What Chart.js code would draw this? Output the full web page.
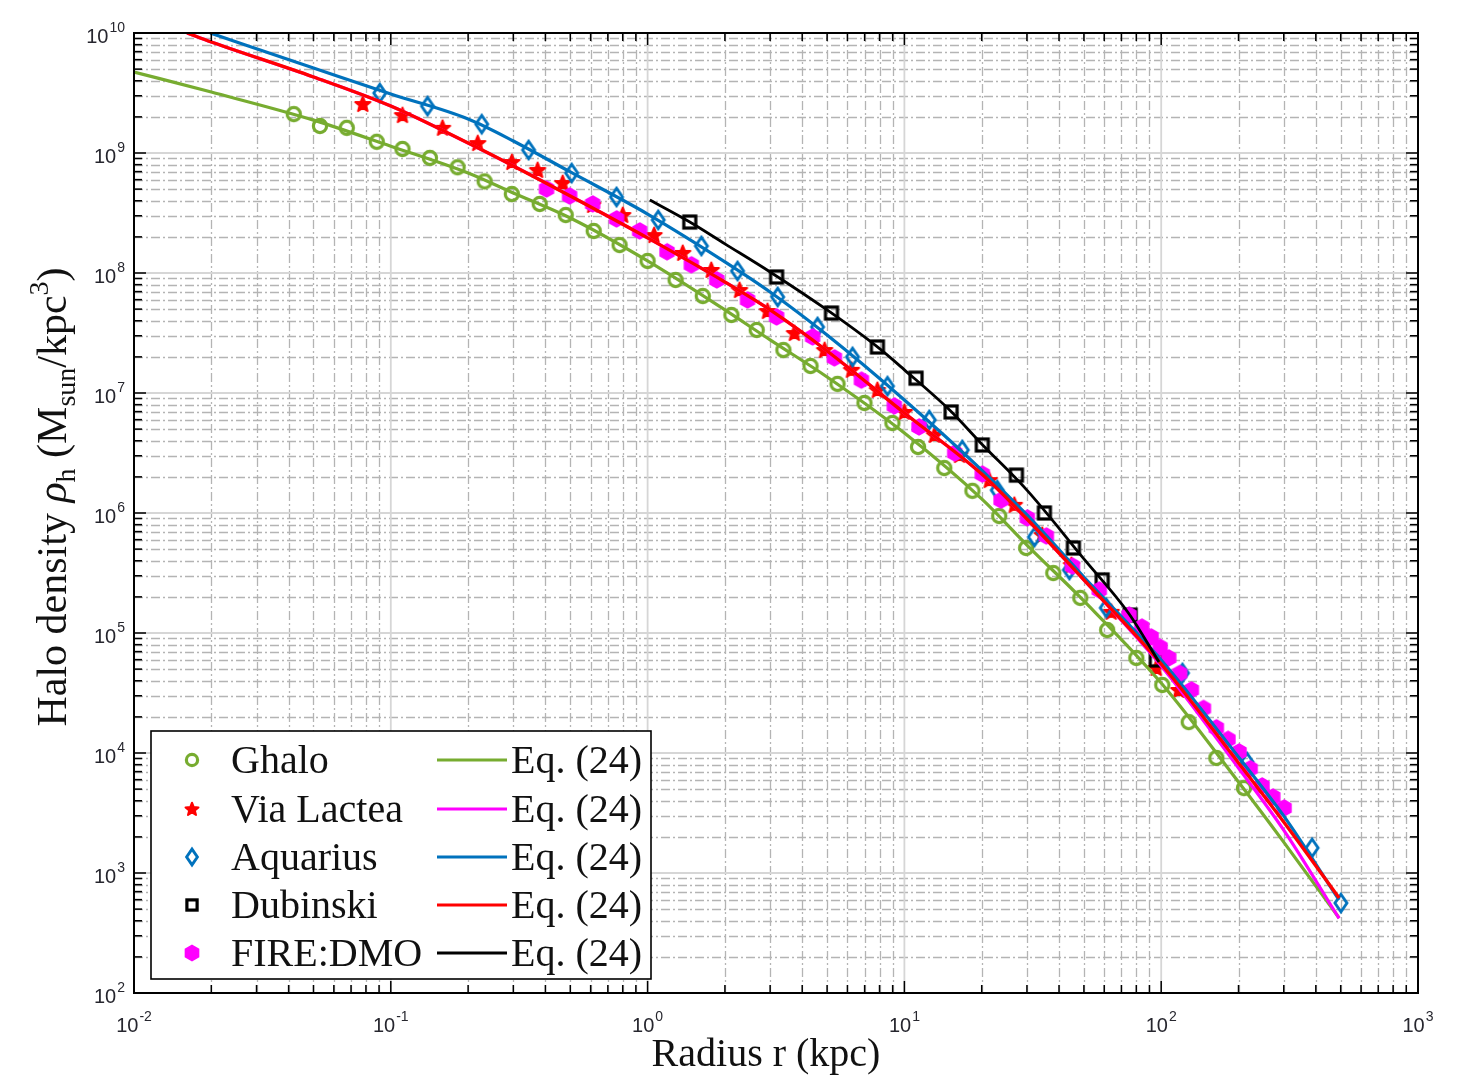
<!DOCTYPE html>
<html>
<head>
<meta charset="utf-8">
<script src="https://cdn.jsdelivr.net/npm/chart.js@4/dist/chart.umd.min.js"></script>
<style>
html,body{margin:0;padding:0;background:#ffffff;}
#wrap{width:1458px;height:1076px;position:relative;}
canvas{display:block;}
</style>
</head>
<body>
<div id="wrap"><canvas id="c" width="1458" height="1076"></canvas></div>
<script>
// ---------------- data ----------------
// Ghalo (green circles)
const ghaloR   = [0.0419,0.0530,0.0674,0.0882,0.111,0.142,0.182,0.232,0.296,0.380,0.480,0.617,0.778,1.00,1.285,1.64,2.12,2.66,3.38,4.31,5.49,6.99,8.98,11.3,14.3,18.4,23.4,29.8,38.0,48.4,61.6,80.0,101,128,164,210];
const ghaloRho = [2.11e9,1.68e9,1.62e9,1.24e9,1.08e9,9.1e8,7.6e8,5.8e8,4.55e8,3.76e8,3.04e8,2.24e8,1.71e8,1.26e8,8.75e7,6.43e7,4.47e7,3.35e7,2.28e7,1.68e7,1.19e7,8.26e6,5.62e6,3.55e6,2.37e6,1.53e6,9.44e5,5.11e5,3.16e5,1.96e5,1.06e5,6.19e4,3.69e4,1.81e4,9.09e3,5.1e3];
// Via Lactea (red stars)
const viaR   = [0.0778,0.111,0.159,0.218,0.296,0.373,0.467,0.611,0.80,1.06,1.37,1.77,2.28,2.93,3.73,4.89,6.22,7.85,10.0,13.1,16.4,21.4,26.8,34.4,44.7,63.9,95.7,117];
const viaRho = [2.56e9,2.07e9,1.62e9,1.21e9,8.41e8,7.21e8,5.62e8,3.69e8,3.04e8,2.07e8,1.47e8,1.06e8,7.21e7,4.82e7,3.16e7,2.28e7,1.56e7,1.06e7,6.95e6,4.47e6,3.04e6,1.88e6,1.17e6,6.56e5,3.69e5,1.5e5,5.11e4,3.35e4];
// Aquarius (blue diamonds)
const aqR   = [0.0906,0.139,0.226,0.344,0.506,0.757,1.10,1.62,2.24,3.21,4.59,6.28,8.59,12.5,16.8,23.0,32.1,43.9,61.1,84.3,121,216,387,501];
const aqRho = [3.16e9,2.46e9,1.74e9,1.06e9,6.81e8,4.3e8,2.77e8,1.68e8,1.04e8,6.31e7,3.55e7,2.0e7,1.14e7,5.96e6,3.35e6,1.55e6,6.31e5,3.35e5,1.62e5,9.8e4,4.64e4,8.41e3,1.62e3,562];
// Dubinski (black squares)
const dubR   = [1.46,3.18,5.20,7.85,11.1,15.2,20.1,27.3,35.1,45.5,58.9,75.7,95.7];
const dubRho = [2.66e8,9.27e7,4.64e7,2.42e7,1.33e7,6.95e6,3.69e6,2.07e6,1.0e6,5.11e5,2.77e5,1.41e5,5.96e4];
// FIRE:DMO (magenta hexagons)
const fireR   = [0.404,0.497,0.611,0.757,0.931,1.19,1.48,1.86,2.45,3.18,4.39,5.34,6.80,9.14,11.4,15.7,20.1,23.8,30.1,35.7,45.1,57.4,75.0,84.0,91.4,99.0,107,118,131,146,164,182,201,222,247,272,301];
const fireRho = [5.01e8,4.38e8,3.76e8,2.82e8,2.24e8,1.5e8,1.17e8,8.75e7,5.96e7,4.3e7,2.93e7,1.96e7,1.28e7,7.8e6,5.21e6,3.16e6,2.11e6,1.28e6,9.09e5,6.43e5,3.61e5,2.28e5,1.41e5,1.12e5,9.26e4,7.6e4,6.19e4,4.6e4,3.35e4,2.35e4,1.62e4,1.3e4,1.02e4,7.4e3,5.31e3,4.3e3,3.48e3];

// Eq. (24) fitted curves
const greenFitR   = [0.01,0.02,0.05,0.1,0.2,0.3,0.5,1,2,3,5,10,20,30,50,100,200,300,493];
const greenFitRho = [4.73e9,3.22e9,1.88e9,1.14e9,6.81e8,4.64e8,2.87e8,1.26e8,4.92e7,2.77e7,1.36e7,4.64e6,1.31e6,5.41e5,1.85e5,3.83e4,5.73e3,1.81e3,422];
const magentaFitR   = [0.0161,0.02,0.05,0.1,0.2,0.3,0.5,1,2,3,5,10,20,30,50,100,200,300,493];
const magentaFitRho = [1e10,8.41e9,4.3e9,2.46e9,1.21e9,7.8e8,4.38e8,1.96e8,8.41e7,4.92e7,2.24e7,6.81e6,2.11e6,8.91e5,2.77e5,5.31e4,7.5e3,2.28e3,418];
const blueFitR   = [0.0198,0.05,0.1,0.2,0.3,0.5,1,2,3,5,10,20,30,50,100,200,300,493];
const blueFitRho = [1e10,5.11e9,3.1e9,1.92e9,1.26e9,6.95e8,3.1e8,1.24e8,6.95e7,3.04e7,8.75e6,2.28e6,9.63e5,2.93e5,5.96e4,9.26e3,2.99e3,596];
const redFitR   = [0.0161,0.02,0.05,0.1,0.2,0.3,0.5,1,2,3,5,10,20,30,50,100,200,300,493];
const redFitRho = [1e10,8.41e9,4.3e9,2.46e9,1.21e9,7.8e8,4.38e8,1.96e8,8.41e7,4.92e7,2.24e7,6.81e6,2.11e6,8.91e5,2.77e5,5.52e4,8.26e3,2.66e3,619];
const blackFitR   = [1.02,1.46,2,3,5,7.85,10,15,20,30,50,75,98];
const blackFitRho = [4.06e8,2.66e8,1.75e8,1.02e8,4.92e7,2.42e7,1.56e7,7.21e6,3.76e6,1.55e6,4.14e5,1.44e5,5.73e4];

// tick labels (powers of ten)
const xTickExponents = [-2,-1,0,1,2,3];
const yTickExponents = [2,3,4,5,6,7,8,9,10];

// legend text
const legendMarkerLabels = ['Ghalo','Via Lactea','Aquarius','Dubinski','FIRE:DMO'];
const legendLineLabels   = ['Eq. (24)','Eq. (24)','Eq. (24)','Eq. (24)','Eq. (24)'];
const xTitle = 'Radius r (kpc)';

// ---------------- styles ----------------
const GREEN = 'rgb(119,172,48)';
const BLUE = 'rgb(0,114,189)';
const RED = 'rgb(255,0,0)';
const MAGENTA = 'rgb(255,0,255)';
const BLACK = 'rgb(0,0,0)';
const SERIF = '"Liberation Serif","Times New Roman",serif';
const SANS = '"Liberation Sans",Arial,sans-serif';

function makeMarker(kind, color, s){
  const c = document.createElement('canvas');
  c.width = 26; c.height = 26;
  const g = c.getContext('2d');
  const cx = 13, cy = 13;
  g.strokeStyle = color; g.fillStyle = color; g.lineJoin = 'miter';
  if (kind === 'circle'){
    g.lineWidth = 3.2; g.beginPath(); g.arc(cx,cy,6.6*s,0,Math.PI*2); g.stroke();
  } else if (kind === 'star'){
    g.lineWidth = 2; g.lineJoin = 'round'; g.beginPath();
    for (let i=0;i<10;i++){
      const r = ((i%2===0)?8:3.5)*s;
      const a = -Math.PI/2 + i*Math.PI/5;
      const px = cx + r*Math.cos(a), py = cy + 0.5 + r*Math.sin(a);
      if (i===0) g.moveTo(px,py); else g.lineTo(px,py);
    }
    g.closePath(); g.fill(); g.stroke();
  } else if (kind === 'diamond'){
    g.lineWidth = 2.9; g.beginPath();
    g.moveTo(cx,cy-8.8*s); g.lineTo(cx+6*s,cy); g.lineTo(cx,cy+8.8*s); g.lineTo(cx-6*s,cy); g.closePath(); g.stroke();
  } else if (kind === 'square'){
    g.lineWidth = 3.2; g.strokeRect(cx-6*s,cy-6*s,12*s,12*s);
  } else if (kind === 'hexagon'){
    g.lineWidth = 1.5; g.beginPath();
    for (let i=0;i<6;i++){
      const a = -Math.PI/2 + i*Math.PI/3;
      const px = cx + 8*s*Math.cos(a), py = cy + 8*s*Math.sin(a);
      if (i===0) g.moveTo(px,py); else g.lineTo(px,py);
    }
    g.closePath(); g.fill(); g.stroke();
  }
  return c;
}
const mkCircle = makeMarker('circle', GREEN, 1);
const mkStar = makeMarker('star', RED, 1);
const mkDiamond = makeMarker('diamond', BLUE, 1);
const mkSquare = makeMarker('square', BLACK, 1);
const mkHex = makeMarker('hexagon', MAGENTA, 1);
const lgMarkers = [makeMarker('circle', GREEN, 0.85), makeMarker('star', RED, 0.85), makeMarker('diamond', BLUE, 0.9),
                   makeMarker('square', BLACK, 0.85), makeMarker('hexagon', MAGENTA, 0.95)];

const pts = (xs, ys) => xs.map((x,i)=>({x:x, y:ys[i]}));

function markerSet(label, xs, ys, img, order){
  return {label, data: pts(xs,ys), showLine:false, pointStyle: img, pointRadius: 8,
          borderColor:'rgba(0,0,0,0)', backgroundColor:'rgba(0,0,0,0)', order};
}
function lineSet(label, xs, ys, color, width, order){
  return {label, data: pts(xs,ys), showLine:true, borderColor: color, borderWidth: width,
          pointRadius:0, fill:false, cubicInterpolationMode:'monotone', order};
}

// ---------------- drawing helpers ----------------
function powLabel(ctx, exp, anchorX, baseY, align){
  const base = '10', sup = String(exp);
  ctx.font = '20px ' + SANS;
  const wb = ctx.measureText(base).width;
  ctx.font = '14px ' + SANS;
  const ws = ctx.measureText(sup).width;
  const total = wb + 1 + ws;
  const x0 = align === 'right' ? anchorX - total : anchorX - total/2;
  ctx.textAlign = 'left'; ctx.textBaseline = 'alphabetic';
  ctx.fillStyle = '#26262e';
  ctx.font = '20px ' + SANS; ctx.fillText(base, x0, baseY);
  ctx.font = '14px ' + SANS; ctx.fillText(sup, x0 + wb + 1, baseY - 11);
}

function hLine(ctx, x1, x2, y){ ctx.beginPath(); ctx.moveTo(x1,y); ctx.lineTo(x2,y); ctx.stroke(); }
function vLine(ctx, x, y1, y2){ ctx.beginPath(); ctx.moveTo(x,y1); ctx.lineTo(x,y2); ctx.stroke(); }

const decorPlugin = {
  id: 'decor',
  beforeDatasetsDraw(chart){
    const ctx = chart.ctx, xs = chart.scales.x, ys = chart.scales.y;
    const {left,right,top,bottom} = chart.chartArea;
    ctx.save();
    ctx.fillStyle = '#ffffff'; ctx.fillRect(left,top,right-left,bottom-top);
    // minor grid
    ctx.strokeStyle = '#b4b4b4'; ctx.lineWidth = 1.3; ctx.setLineDash([9,3,2,3]);
    for (let e=xTickExponents[0]; e<xTickExponents[xTickExponents.length-1]; e++){
      for (let k=2;k<=9;k++){ const px = Math.round(xs.getPixelForValue(k*Math.pow(10,e)))+0.5; vLine(ctx,px,top,bottom); }
    }
    for (let e=yTickExponents[0]; e<yTickExponents[yTickExponents.length-1]; e++){
      for (let k=2;k<=9;k++){ const py = Math.round(ys.getPixelForValue(k*Math.pow(10,e)))+0.5; hLine(ctx,left,right,py); }
    }
    // major grid
    ctx.setLineDash([]); ctx.strokeStyle = '#d6d6d6'; ctx.lineWidth = 1.8;
    xTickExponents.forEach(e=>{ const px = xs.getPixelForValue(Math.pow(10,e)); vLine(ctx,px,top,bottom); });
    yTickExponents.forEach(e=>{ const py = ys.getPixelForValue(Math.pow(10,e)); hLine(ctx,left,right,py); });
    ctx.restore();
  },
  afterDatasetsDraw(chart){
    const ctx = chart.ctx, xs = chart.scales.x, ys = chart.scales.y;
    const {left,right,top,bottom} = chart.chartArea;
    ctx.save();
    // ticks (all four sides, inward)
    ctx.strokeStyle = '#000'; ctx.lineWidth = 1.5;
    const MAJ = 12, MIN = 8;
    for (let e=xTickExponents[0]; e<=xTickExponents[xTickExponents.length-1]; e++){
      for (let k=1;k<=9;k++){
        if (e === xTickExponents[xTickExponents.length-1] && k>1) break;
        const px = xs.getPixelForValue(k*Math.pow(10,e));
        const L = k===1?MAJ:MIN;
        vLine(ctx,px,bottom,bottom-L); vLine(ctx,px,top,top+L);
      }
    }
    for (let e=yTickExponents[0]; e<=yTickExponents[yTickExponents.length-1]; e++){
      for (let k=1;k<=9;k++){
        if (e === yTickExponents[yTickExponents.length-1] && k>1) break;
        const py = ys.getPixelForValue(k*Math.pow(10,e));
        const L = k===1?MAJ:MIN;
        hLine(ctx,left,left+L,py); hLine(ctx,right,right-L,py);
      }
    }
    // box
    ctx.lineWidth = 2; ctx.strokeRect(left,top,right-left,bottom-top);
    // tick labels
    xTickExponents.forEach(e=>{ powLabel(ctx, e, xs.getPixelForValue(Math.pow(10,e)), bottom+39, 'center'); });
    yTickExponents.forEach(e=>{ powLabel(ctx, e, left-9, ys.getPixelForValue(Math.pow(10,e))+10, 'right'); });
    // x title
    ctx.fillStyle = '#111'; ctx.font = '40px ' + SERIF; ctx.textAlign = 'center'; ctx.textBaseline = 'alphabetic';
    ctx.fillText(xTitle, (left+right)/2 - 10, 1066);
    // y title (rich text, rotated)
    const runs = [
      {t:'Halo density ', f:'42px '+SERIF, dy:0},
      {t:'\u03C1', f:'italic 42px '+SERIF, dy:0},
      {t:'h', f:'28px '+SERIF, dy:9},
      {t:' (M', f:'42px '+SERIF, dy:0},
      {t:'sun', f:'28px '+SERIF, dy:9},
      {t:'/kpc', f:'42px '+SERIF, dy:0},
      {t:'3', f:'28px '+SERIF, dy:-18},
      {t:')', f:'42px '+SERIF, dy:0}
    ];
    let total = 0;
    runs.forEach(r=>{ ctx.font = r.f; r.w = ctx.measureText(r.t).width; total += r.w; });
    ctx.translate(66, 497); ctx.rotate(-Math.PI/2);
    ctx.textAlign = 'left';
    let x = -total/2;
    runs.forEach(r=>{ ctx.font = r.f; ctx.fillText(r.t, x, r.dy); x += r.w; });
    ctx.restore();

    // legend
    ctx.save();
    const L0 = 151, T0 = 731, W = 500, H = 248;
    ctx.fillStyle = '#fff'; ctx.fillRect(L0,T0,W,H);
    ctx.strokeStyle = '#000'; ctx.lineWidth = 1.6; ctx.strokeRect(L0,T0,W,H);
    const rowsY = [760,809,857,905,953];
    const lineColors = [GREEN, MAGENTA, BLUE, RED, BLACK];
    ctx.font = '40px ' + SERIF; ctx.textAlign = 'left'; ctx.textBaseline = 'alphabetic';
    rowsY.forEach((y,i)=>{
      const m = lgMarkers[i];
      ctx.drawImage(m, 192 - m.width/2, y - m.height/2);
      ctx.fillStyle = '#111';
      ctx.fillText(legendMarkerLabels[i], 231, y + 13);
      ctx.strokeStyle = lineColors[i]; ctx.lineWidth = 3.2;
      hLine(ctx, 437, 507, y);
      ctx.fillText(legendLineLabels[i], 511, y + 13);
    });
    ctx.restore();
  }
};

const chart = new Chart(document.getElementById('c'), {
  type: 'scatter',
  data: {
    datasets: [
      lineSet('Eq. (24) black', blackFitR, blackFitRho, BLACK, 2.8, 0),
      lineSet('Eq. (24) red', redFitR, redFitRho, RED, 3.3, 1),
      lineSet('Eq. (24) blue', blueFitR, blueFitRho, BLUE, 3.2, 2),
      lineSet('Eq. (24) magenta', magentaFitR, magentaFitRho, MAGENTA, 3.2, 3),
      lineSet('Eq. (24) green', greenFitR, greenFitRho, GREEN, 3.2, 4),
      markerSet('FIRE:DMO', fireR, fireRho, mkHex, 5),
      markerSet('Dubinski', dubR, dubRho, mkSquare, 6),
      markerSet('Aquarius', aqR, aqRho, mkDiamond, 7),
      markerSet('Via Lactea', viaR, viaRho, mkStar, 8),
      markerSet('Ghalo', ghaloR, ghaloRho, mkCircle, 9)
    ]
  },
  options: {
    responsive: false,
    devicePixelRatio: 1,
    animation: false,
    events: [],
    layout: { padding: { left: 134, top: 33, right: 40, bottom: 83 } },
    plugins: { legend: { display:false }, tooltip: { enabled:false }, title: { display:false } },
    scales: {
      x: { type:'logarithmic', min:0.01, max:1000, position:'bottom',
           ticks:{ display:false }, grid:{ display:false, drawTicks:false }, border:{ display:false },
           afterFit(s){ s.height = 0; } },
      y: { type:'logarithmic', min:100, max:1e10, position:'left',
           ticks:{ display:false }, grid:{ display:false, drawTicks:false }, border:{ display:false },
           afterFit(s){ s.width = 0; } }
    }
  },
  plugins: [decorPlugin]
});
</script>
</body>
</html>
